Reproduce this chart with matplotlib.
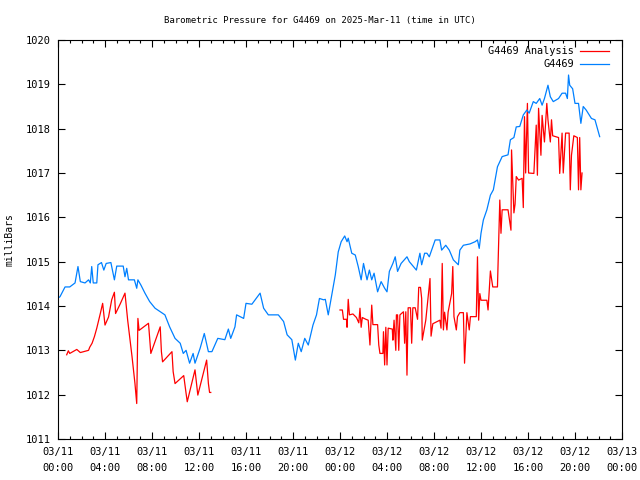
import numpy as np
import matplotlib
matplotlib.use('Agg')
import matplotlib.pyplot as plt

# hours since 2025-03-11 00:00 UTC
blue_hours = [0.0, 0.17, 0.6, 1.0, 1.45, 1.7, 1.9, 2.3, 2.6, 2.75, 2.87, 3.0, 3.3, 3.4, 3.7, 3.9,
              4.1, 4.5, 4.8, 5.0, 5.55, 5.7, 5.85, 6.0, 6.5, 6.7, 6.8, 7.06, 7.4, 7.8, 8.26, 8.7,
              9.1, 9.5, 9.96, 10.4, 10.66, 10.9, 11.2, 11.5, 11.66, 12.1, 12.45, 12.8, 13.1, 13.6,
              14.2, 14.5, 14.7, 15.06, 15.2, 15.8, 16.0, 16.5, 17.2, 17.5, 17.9, 18.75, 19.2, 19.5,
              19.9, 20.2, 20.45, 20.7, 21.0, 21.3, 21.7, 22.0, 22.25, 22.6, 22.75, 23.0, 23.3, 23.6,
              23.85, 24.1, 24.4, 24.6, 24.7, 25.0, 25.3, 25.55, 25.8, 26.0, 26.3, 26.5, 26.7, 26.9,
              27.2, 27.5, 27.8, 28.0, 28.2, 28.5, 28.7, 28.9, 29.2, 29.7, 29.9, 30.5, 30.8, 30.95,
              31.2, 31.4, 31.6, 32.1, 32.5, 32.65, 33.0, 33.3, 33.65, 34.07, 34.2, 34.5, 35.06, 35.5,
              35.7, 35.85, 36.0, 36.2, 36.5, 36.8, 37.05, 37.4, 37.8, 38.3, 38.5, 38.8, 39.0, 39.3,
              39.6, 39.9, 40.1, 40.45, 40.7, 41.0, 41.2, 41.4, 41.7, 41.9, 42.15, 42.6, 42.9, 43.2,
              43.35, 43.45, 43.55, 43.8, 44.0, 44.3, 44.5, 44.7, 44.95, 45.4, 45.7, 46.1]
blue_vals = [1014.18, 1014.21, 1014.43, 1014.43, 1014.52, 1014.89, 1014.55, 1014.52, 1014.59, 1014.52,
             1014.89, 1014.52, 1014.52, 1014.93, 1014.98, 1014.81, 1014.96, 1014.98, 1014.59, 1014.90,
             1014.90, 1014.66, 1014.85, 1014.59, 1014.59, 1014.40, 1014.59, 1014.47, 1014.29, 1014.10,
             1013.95, 1013.87, 1013.80, 1013.53, 1013.27, 1013.16, 1012.93, 1013.00, 1012.71, 1012.93,
             1012.71, 1013.05, 1013.38, 1012.97, 1012.97, 1013.27, 1013.24, 1013.48, 1013.27, 1013.53,
             1013.80, 1013.72, 1014.06, 1014.04, 1014.29, 1013.95, 1013.80, 1013.80, 1013.65, 1013.35,
             1013.24, 1012.78, 1013.16, 1012.97, 1013.27, 1013.12, 1013.57, 1013.80, 1014.17, 1014.14,
             1014.15, 1013.80, 1014.25, 1014.70, 1015.22, 1015.45, 1015.58, 1015.45, 1015.53, 1015.19,
             1015.15, 1014.89, 1014.59, 1014.96, 1014.59, 1014.81, 1014.59, 1014.74, 1014.32, 1014.55,
             1014.40, 1014.32, 1014.78, 1014.96, 1015.11, 1014.78, 1014.96, 1015.11, 1015.00, 1014.81,
             1015.19, 1014.93, 1015.19, 1015.19, 1015.11, 1015.49, 1015.49, 1015.26, 1015.37, 1015.26,
             1015.04, 1014.93, 1015.26, 1015.37, 1015.40, 1015.45, 1015.49, 1015.30, 1015.64, 1015.94,
             1016.17, 1016.50, 1016.62, 1017.14, 1017.37, 1017.41, 1017.75, 1017.80, 1018.04, 1018.05,
             1018.31, 1018.42, 1018.35, 1018.61, 1018.57, 1018.68, 1018.53, 1018.68, 1018.98, 1018.72,
             1018.61, 1018.68, 1018.80, 1018.80, 1018.68, 1019.21, 1018.98, 1018.90, 1018.57, 1018.57,
             1018.12, 1018.50, 1018.42, 1018.23, 1018.20, 1017.82]

# analysis, first day
red1_hours = [0.74, 0.88, 1.0, 1.6, 1.9, 2.6, 2.7, 2.9, 3.1, 3.3, 3.6, 3.8, 4.0, 4.3, 4.57, 4.8, 4.9,
              5.3, 5.7, 5.93, 6.3, 6.55, 6.7, 6.8, 6.9, 7.7, 7.75, 7.9, 8.7, 8.8, 8.9, 9.7, 9.8, 9.96,
              10.7, 10.9, 11.0, 11.66, 11.9, 12.65, 12.8, 12.9, 13.0]
red1_vals = [1012.90, 1012.99, 1012.93, 1013.02, 1012.95, 1013.00, 1013.07, 1013.16, 1013.31, 1013.50,
             1013.83, 1014.06, 1013.57, 1013.75, 1014.14, 1014.31, 1013.83, 1014.05, 1014.29, 1013.68,
             1012.86, 1012.25, 1011.80, 1013.72, 1013.45, 1013.61, 1013.45, 1012.93, 1013.53, 1012.97,
             1012.74, 1012.97, 1012.52, 1012.25, 1012.43, 1012.03, 1011.84, 1012.56, 1011.99, 1012.78,
             1012.25, 1012.05, 1012.05]

# analysis, second day
red2_hours = [24.0, 24.2, 24.3, 24.55, 24.6, 24.7, 24.8, 25.1, 25.4, 25.6, 25.7, 25.8, 25.9, 26.2, 26.4,
              26.55, 26.7, 26.8, 27.2, 27.3, 27.4, 27.65, 27.7, 27.8, 27.9, 28.0, 28.1, 28.45, 28.5,
              28.6, 28.75, 28.8, 28.9, 29.0, 29.1, 29.4, 29.5, 29.6, 29.7, 29.8, 30.0, 30.1, 30.2,
              30.4, 30.6, 30.7, 30.85, 30.95, 31.0, 31.3, 31.66, 31.75, 31.9, 32.5, 32.6, 32.7, 32.8,
              32.9, 33.1, 33.2, 33.5, 33.6, 33.7, 33.9, 34.0, 34.2, 34.5, 34.6, 34.8, 35.0, 35.1,
              35.6, 35.7, 35.8, 35.9, 36.0, 36.5, 36.6, 36.8, 37.0, 37.4, 37.5, 37.6, 37.7, 37.8,
              38.3, 38.55, 38.6, 38.8, 38.9, 39.0, 39.2, 39.5, 39.6, 39.7, 39.8, 39.95, 40.05, 40.5,
              40.7, 40.8, 40.9, 41.1, 41.2, 41.4, 41.6, 41.7, 41.9, 42.0, 42.1, 42.6, 42.7, 42.9,
              43.0, 43.2, 43.5, 43.6, 43.7, 43.9, 44.2, 44.3, 44.4, 44.5, 44.6]
red2_vals = [1013.91, 1013.91, 1013.70, 1013.70, 1013.52, 1014.15, 1013.80, 1013.82, 1013.74, 1013.62,
             1013.95, 1013.52, 1013.74, 1013.70, 1013.68, 1013.12, 1014.02, 1013.58, 1013.58, 1013.12,
             1012.93, 1012.93, 1013.42, 1012.67, 1013.52, 1012.67, 1013.50, 1013.48, 1013.23, 1013.68,
             1013.00, 1013.80, 1013.80, 1013.00, 1013.80, 1013.87, 1013.16, 1013.87, 1012.44, 1013.96,
             1013.96, 1013.16, 1013.96, 1013.96, 1013.70, 1014.42, 1014.42, 1014.17, 1013.23, 1013.68,
             1014.62, 1013.32, 1013.60, 1013.68, 1013.50, 1014.96, 1013.46, 1013.86, 1013.46, 1013.86,
             1014.28, 1014.89, 1013.76, 1013.46, 1013.76, 1013.85, 1013.85, 1012.71, 1013.85, 1013.46,
             1013.76, 1013.76, 1015.11, 1013.68, 1014.28, 1014.13, 1014.13, 1013.91, 1014.79, 1014.43,
             1014.43, 1015.41, 1016.39, 1015.64, 1016.17, 1016.17, 1015.71, 1017.52, 1016.10, 1016.30,
             1016.92, 1016.84, 1016.88, 1016.22, 1018.27, 1017.00, 1018.57, 1017.00, 1016.99, 1018.08,
             1016.95, 1018.46, 1017.40, 1018.30, 1017.70, 1018.57, 1018.20, 1017.70, 1018.20, 1017.84,
             1017.80, 1016.99, 1017.90, 1017.00, 1017.90, 1017.90, 1016.62, 1017.40, 1017.84, 1017.80,
             1016.62, 1017.80, 1016.62, 1017.00]

xtick_hours = [0, 4, 8, 12, 16, 20, 24, 28, 32, 36, 40, 44, 48]
xtick_labels = ['03/11\n00:00', '03/11\n04:00', '03/11\n08:00', '03/11\n12:00', '03/11\n16:00',
                '03/11\n20:00', '03/12\n00:00', '03/12\n04:00', '03/12\n08:00', '03/12\n12:00',
                '03/12\n16:00', '03/12\n20:00', '03/13\n00:00']

plt.rcParams['font.family'] = 'DejaVu Sans Mono'
plt.rcParams['font.size'] = 7.5

fig = plt.figure(figsize=(6.4, 4.8), dpi=100)
ax = fig.add_axes([58 / 640, 1 - 439 / 480, 564 / 640, 399 / 480])

red = '#ff0000'
blue = '#0080ff'
ax.plot(red1_hours, red1_vals, color=red, lw=0.9, label='G4469 Analysis')
ax.plot(red2_hours, red2_vals, color=red, lw=0.9)
ax.plot(blue_hours, blue_vals, color=blue, lw=0.9, label='G4469')

ax.set_xlim(0, 48)
ax.set_ylim(1011, 1020)
ax.set_xticks(xtick_hours)
ax.set_xticklabels(xtick_labels, linespacing=1.75)
ax.set_xticks(np.arange(0, 49, 1), minor=True)
ax.set_yticks(np.arange(1011, 1021, 1))

ax.tick_params(which='both', direction='in', top=True, right=True, width=0.8, colors='black',
               labelsize=7.5)
ax.tick_params(which='major', length=5)
ax.tick_params(which='minor', length=2.5)
ax.tick_params(axis='x', pad=6)
ax.tick_params(axis='y', pad=5)
for s in ax.spines.values():
    s.set_linewidth(0.8)

# gnuplot centres the title on the canvas, not on the plot area
fig.text(0.5, 1 - 20 / 480, 'Barometric Pressure for G4469 on 2025-Mar-11 (time in UTC)',
         ha='center', va='center', fontsize=6.5)
ax.set_ylabel('milliBars', fontsize=7, labelpad=8)

ax.legend(loc='upper right', bbox_to_anchor=(0.988, 1.0), frameon=False, markerfirst=False,
          handlelength=2.8, handletextpad=0.6, labelspacing=0.3, borderpad=0.1,
          borderaxespad=0.5, fontsize=7.4)

fig.savefig('out.png', dpi=100)
